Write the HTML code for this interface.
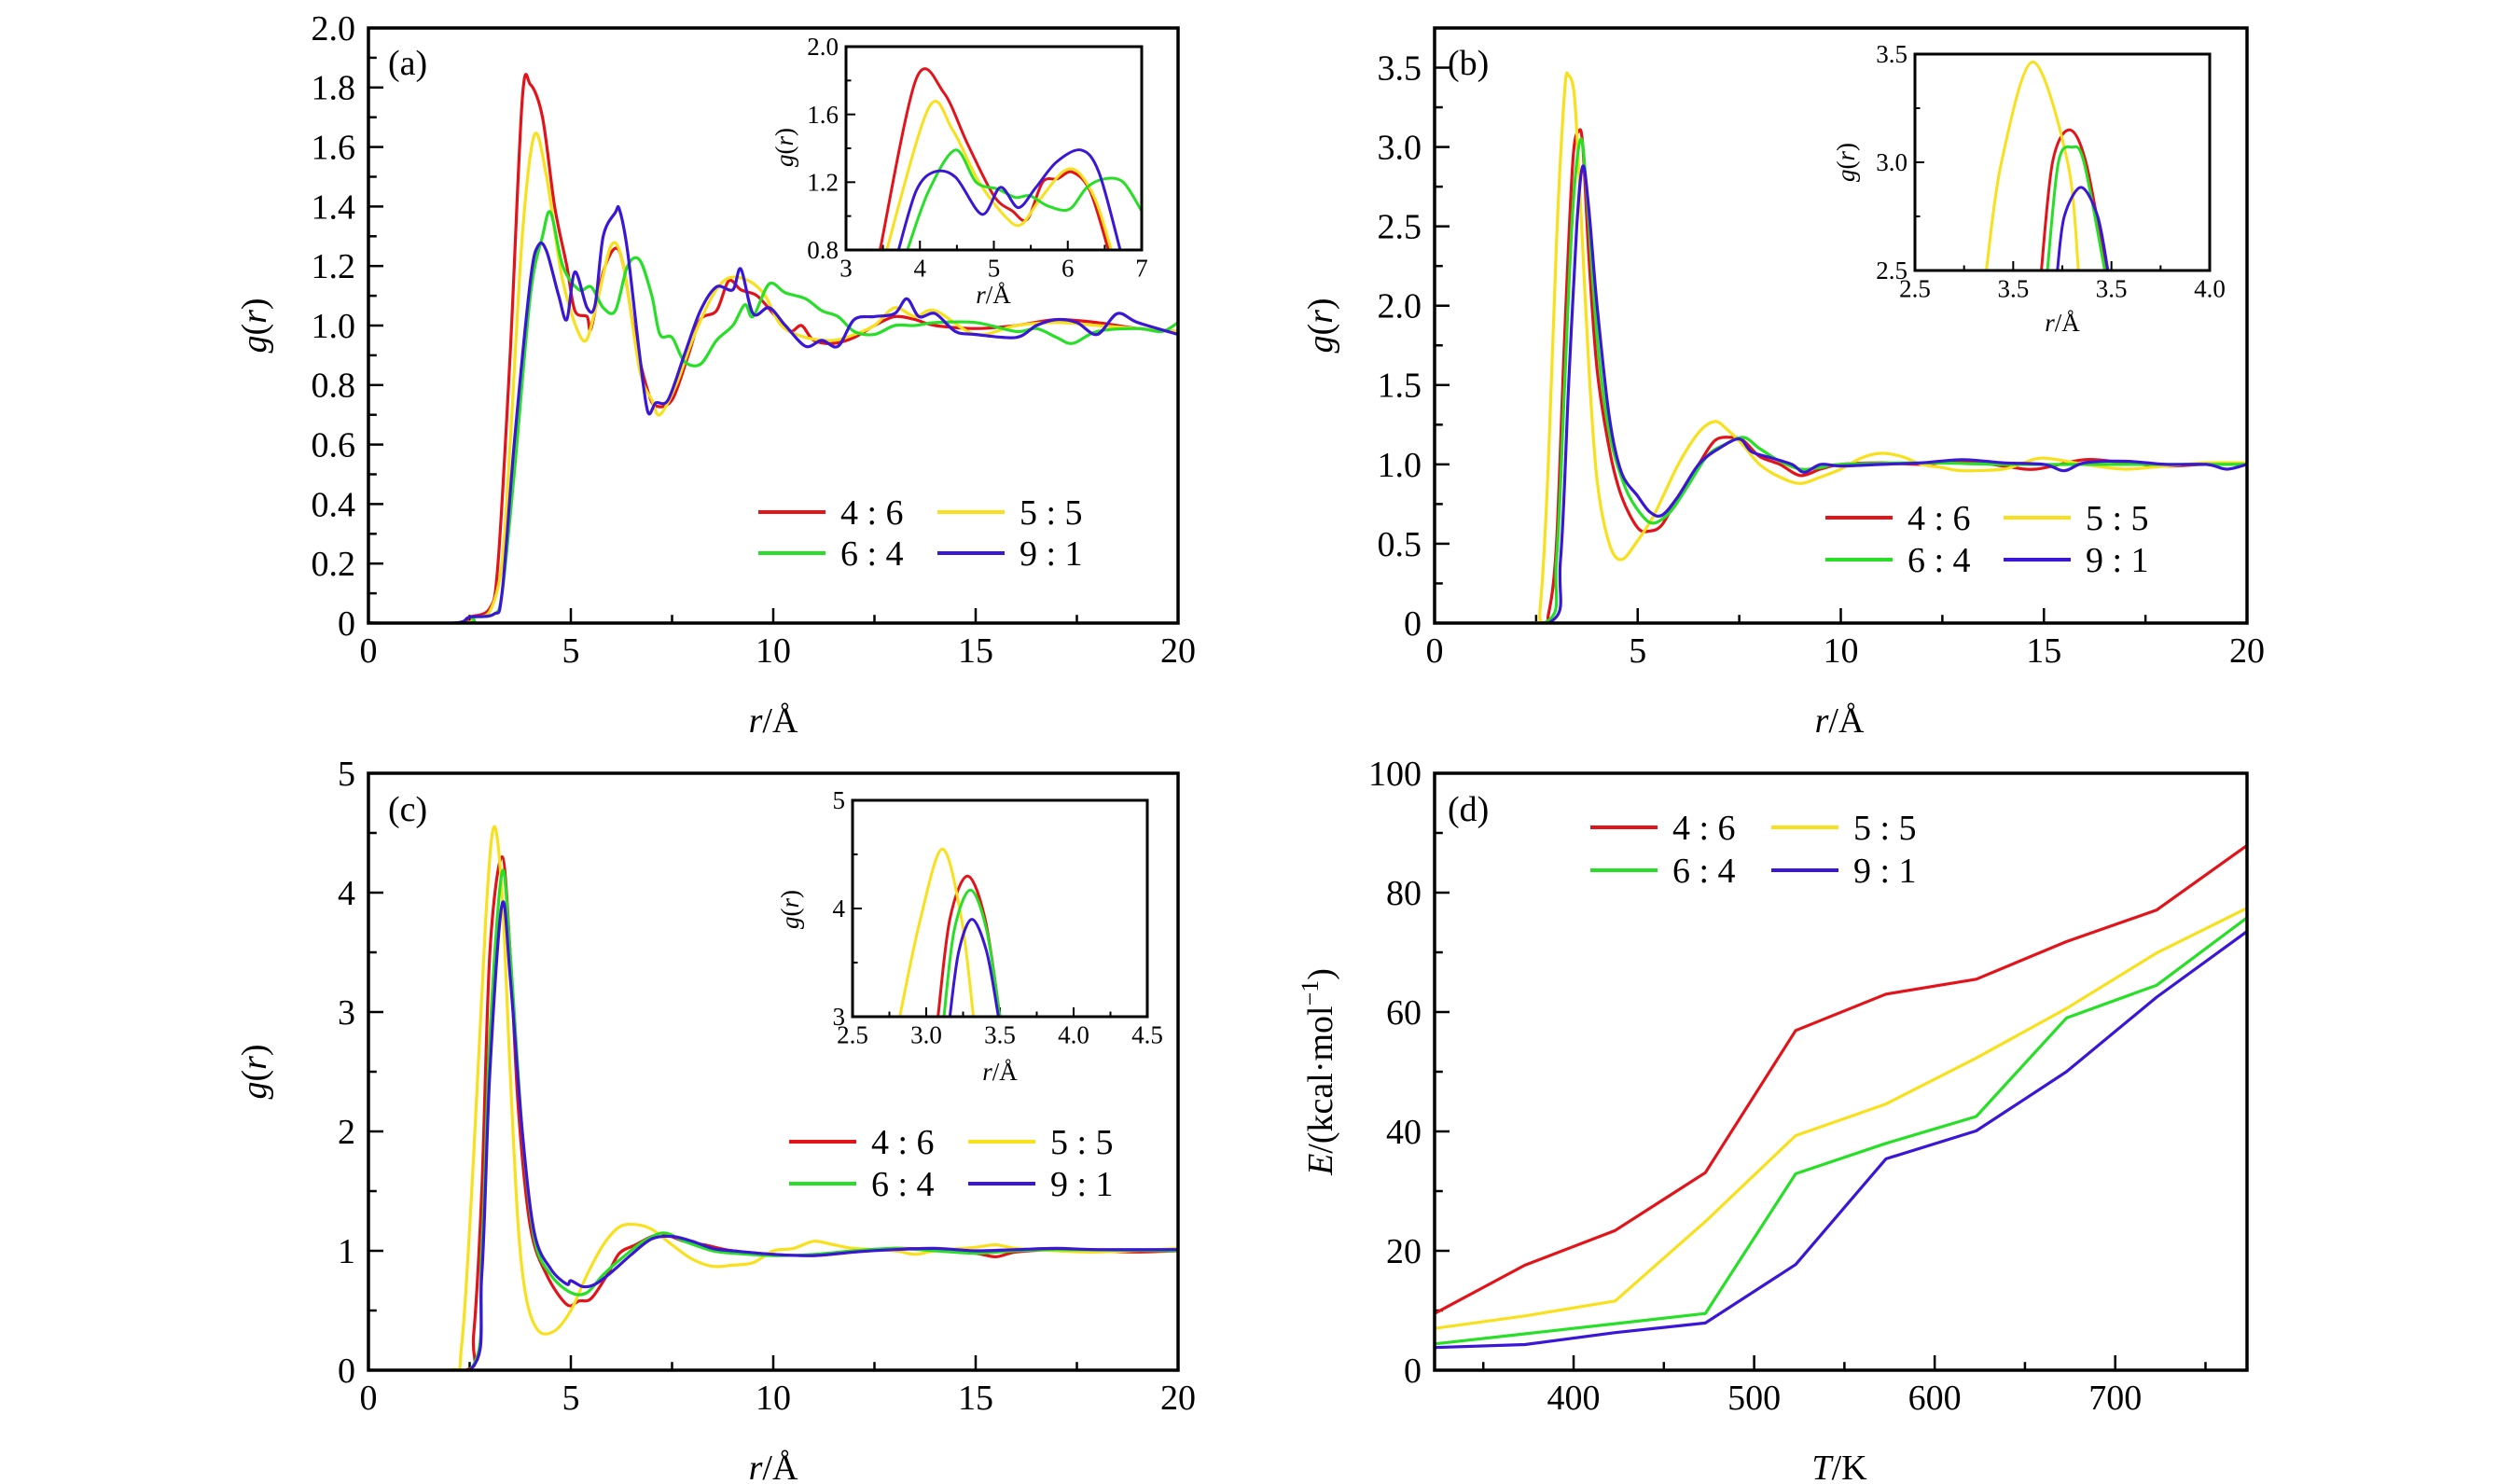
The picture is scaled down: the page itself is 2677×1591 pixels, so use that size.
<!DOCTYPE html>
<html><head><meta charset="utf-8">
<style>
html,body{margin:0;padding:0;background:#fff;}
svg{display:block;font-family:"Liberation Serif","DejaVu Serif",serif;}
svg text{font-family:"Liberation Serif","DejaVu Serif",serif;}
</style></head>
<body>
<svg id="fig" width="2677" height="1591" viewBox="0 0 2677 1591" xmlns="http://www.w3.org/2000/svg" font-family="Liberation Serif, DejaVu Serif, serif"></svg>
<script>
// ---------- DATA ----------
const seriesNames = ["4 : 6","5 : 5","6 : 4","9 : 1"];
const seriesKeys = ["r46","r55","r64","r91"];

// panel (a) main g(r): [r, g] pairs
const aR46 = [[0,0],[2.2,0],[2.5,0.02],[3.0,0.05],[3.2,0.2],[3.5,0.9],[3.8,1.76],[4.0,1.81],[4.3,1.70],[4.6,1.4],[4.9,1.2],[5.1,1.05],[5.4,1.03],[5.5,0.99],[5.8,1.18],[6.1,1.26],[6.3,1.2],[6.6,0.95],[6.9,0.78],[7.1,0.73],[7.5,0.75],[7.9,0.9],[8.2,1.02],[8.6,1.05],[8.9,1.15],[9.2,1.12],[9.6,1.1],[10.0,1.04],[10.4,0.98],[10.7,1.0],[11.0,0.95],[11.5,0.94],[12.0,0.96],[12.5,1.0],[13.0,1.03],[13.5,1.02],[14.0,1.0],[15.0,0.99],[16.0,1.0],[17.0,1.02],[18.0,1.01],[19.0,0.99],[20,0.98]];
const aR55 = [[0,0],[2.3,0],[2.6,0.02],[3.0,0.04],[3.3,0.2],[3.5,0.6],[3.8,1.3],[4.1,1.64],[4.4,1.5],[4.8,1.15],[5.3,0.95],[5.6,1.05],[6.0,1.27],[6.3,1.2],[6.7,0.85],[7.0,0.75],[7.2,0.7],[7.6,0.8],[8.0,0.95],[8.5,1.1],[8.9,1.16],[9.4,1.15],[9.8,1.1],[10.2,1.0],[10.8,0.96],[11.5,0.95],[12.0,0.97],[12.5,1.0],[13.0,1.06],[13.5,1.03],[14.0,1.05],[15,0.97],[16,1.0],[17,1.01],[18,1.0],[19,0.99],[20,0.98]];
const aR64 = [[0,0],[2.4,0],[2.6,0.02],[3.1,0.03],[3.3,0.1],[3.6,0.5],[4.0,1.1],[4.3,1.3],[4.5,1.38],[4.8,1.2],[5.2,1.12],[5.5,1.13],[5.8,1.06],[6.1,1.05],[6.4,1.2],[6.7,1.22],[7.0,1.1],[7.2,0.97],[7.5,0.96],[7.8,0.88],[8.2,0.87],[8.6,0.95],[9.0,1.0],[9.3,1.07],[9.5,1.03],[9.9,1.14],[10.3,1.11],[10.8,1.09],[11.2,1.05],[11.6,1.03],[12.0,0.98],[12.5,0.97],[13.0,1.0],[13.5,1.0],[14,1.01],[15,1.01],[16,0.98],[16.5,0.99],[17,0.96],[17.4,0.94],[18,0.98],[19,0.99],[19.6,0.98],[20,1.01]];
const aR91 = [[0,0],[2.1,0],[2.5,0.02],[3.1,0.03],[3.3,0.1],[3.6,0.6],[4.0,1.15],[4.2,1.27],[4.4,1.25],[4.7,1.1],[4.9,1.02],[5.1,1.18],[5.4,1.06],[5.6,1.07],[5.8,1.3],[6.1,1.38],[6.2,1.39],[6.4,1.25],[6.7,0.9],[6.9,0.71],[7.1,0.74],[7.4,0.75],[7.8,0.9],[8.2,1.05],[8.6,1.13],[9.0,1.12],[9.2,1.19],[9.5,1.04],[9.9,1.06],[10.3,1.0],[10.8,0.93],[11.2,0.95],[11.6,0.93],[12.0,1.02],[12.5,1.03],[13.0,1.04],[13.3,1.09],[13.6,1.03],[14.0,1.04],[14.5,0.98],[15,0.97],[16,0.96],[16.5,1.0],[17,1.02],[17.5,1.01],[18,0.97],[18.5,1.04],[19,1.01],[20,0.97]];
// panel (a) inset
const aiR46 = [[3.46,0.8],[3.95,1.81],[4.32,1.73],[4.64,1.43],[5.0,1.12],[5.25,1.03],[5.45,0.98],[5.66,1.2],[5.86,1.22],[6.06,1.26],[6.3,1.15],[6.55,0.8]];
const aiR55 = [[3.55,0.8],[4.12,1.64],[4.44,1.51],[4.8,1.2],[5.17,0.99],[5.37,0.95],[5.61,1.09],[5.93,1.26],[6.14,1.26],[6.38,1.09],[6.59,0.8]];
const aiR64 = [[3.83,0.8],[4.12,1.15],[4.48,1.39],[4.76,1.2],[5.05,1.16],[5.29,1.11],[5.49,1.12],[5.73,1.06],[6.02,1.04],[6.26,1.17],[6.5,1.22],[6.75,1.2],[7.0,1.03]];
const aiR91 = [[3.71,0.8],[3.95,1.15],[4.19,1.26],[4.48,1.23],[4.84,1.01],[5.09,1.17],[5.33,1.05],[5.57,1.17],[5.85,1.32],[6.18,1.39],[6.42,1.26],[6.71,0.8]];

// panel (b) main
const bR46 = [[0,0],[2.6,0],[2.8,0.05],[3.0,0.5],[3.2,1.8],[3.4,2.9],[3.55,3.1],[3.65,3.0],[3.8,2.3],[4.0,1.6],[4.3,1.1],[4.6,0.8],[5.0,0.6],[5.3,0.58],[5.6,0.62],[6.0,0.8],[6.5,1.0],[6.9,1.15],[7.3,1.17],[7.6,1.15],[8.0,1.05],[8.5,1.0],[9.0,0.93],[9.5,0.97],[10,1.0],[11,1.01],[12,1.0],[13,1.02],[14,0.99],[14.8,0.97],[16,1.03],[17,1.01],[18,0.99],[19,1.0],[20,1.0]];
const bR55 = [[0,0],[2.4,0],[2.6,0.1],[2.8,1.0],[3.0,2.4],[3.2,3.35],[3.3,3.45],[3.45,3.3],[3.6,2.6],[3.8,1.6],[4.0,0.9],[4.3,0.5],[4.6,0.4],[5.0,0.52],[5.4,0.68],[6.0,1.0],[6.5,1.2],[6.9,1.27],[7.2,1.22],[7.6,1.12],[8.0,1.0],[8.5,0.92],[9.0,0.88],[9.5,0.92],[10,0.97],[10.5,1.04],[11,1.07],[11.5,1.05],[12,1.0],[12.5,0.98],[13,0.96],[14,0.97],[14.5,1.01],[15,1.04],[16,1.0],[17,0.97],[18,0.99],[19,1.01],[20,1.01]];
const bR64 = [[0,0],[2.7,0],[3.0,0.4],[3.2,1.5],[3.4,2.6],[3.6,3.05],[3.75,2.7],[4.0,1.8],[4.3,1.2],[4.7,0.85],[5.1,0.68],[5.4,0.63],[5.8,0.7],[6.2,0.85],[6.7,1.05],[7.1,1.12],[7.6,1.17],[8.0,1.1],[8.5,1.02],[9.0,0.97],[9.5,0.98],[10,1.0],[12,1.01],[14,1.0],[16,1.0],[18,1.0],[20,1.0]];
const bR91 = [[0,0],[2.8,0],[3.1,0.4],[3.3,1.5],[3.5,2.5],[3.65,2.88],[3.8,2.6],[4.0,2.0],[4.3,1.3],[4.6,0.95],[5.0,0.8],[5.3,0.7],[5.6,0.68],[6.0,0.8],[6.5,1.0],[7.0,1.1],[7.5,1.16],[7.8,1.08],[8.3,1.04],[8.8,1.0],[9.1,0.95],[9.5,1.0],[10,0.99],[11,1.0],[12,1.01],[13,1.03],[14,1.01],[15,1.0],[15.5,0.96],[16,1.01],[17,1.02],[18,1.0],[19,1.0],[19.5,0.97],[20,1.0]];
// panel (b) inset
const biR46 = [[3.143,2.5],[3.2,3.0],[3.285,3.15],[3.37,3.0],[3.474,2.5]];
const biR55 = [[2.863,2.5],[2.94,3.0],[3.1,3.464],[3.277,3.0],[3.332,2.5]];
const biR64 = [[3.174,2.5],[3.23,3.0],[3.30,3.07],[3.36,3.0],[3.466,2.5]];
const biR91 = [[3.225,2.5],[3.26,2.75],[3.345,2.884],[3.43,2.75],[3.482,2.5]];

// panel (c) main
const cR46 = [[0,0],[2.4,0],[2.6,0.3],[2.8,1.5],[3.0,3.5],[3.3,4.3],[3.5,3.5],[3.7,2.2],[4.0,1.2],[4.4,0.8],[4.9,0.55],[5.2,0.58],[5.5,0.6],[5.9,0.8],[6.2,0.98],[6.6,1.05],[7.0,1.12],[7.3,1.14],[7.8,1.08],[8.3,1.05],[9.0,1.0],[10,0.97],[11,0.96],[12,0.99],[13,1.02],[14,1.01],[15,0.98],[15.5,0.95],[16,0.99],[17,1.01],[18,1.0],[19,0.99],[20,1.0]];
const cR55 = [[0,0],[2.0,0],[2.3,0.2],[2.6,1.8],[2.9,3.8],[3.1,4.55],[3.3,4.0],[3.5,2.5],[3.7,1.2],[3.9,0.6],[4.2,0.33],[4.6,0.33],[5.0,0.5],[5.4,0.8],[5.8,1.05],[6.2,1.2],[6.6,1.22],[7.0,1.18],[7.5,1.05],[8.0,0.93],[8.5,0.87],[9.0,0.88],[9.5,0.9],[10,1.0],[10.5,1.02],[11,1.08],[11.5,1.05],[12,1.02],[13,1.0],[13.5,0.97],[14,1.0],[15,1.03],[15.5,1.05],[16,1.02],[17,1.0],[18,0.99],[20,1.02]];
const cR64 = [[0,0],[2.5,0],[2.8,1.0],[3.0,2.8],[3.3,4.17],[3.5,3.5],[3.8,2.0],[4.1,1.1],[4.5,0.8],[5.0,0.65],[5.4,0.65],[5.8,0.8],[6.3,0.95],[6.8,1.08],[7.3,1.15],[7.8,1.08],[8.5,1.0],[9.0,0.98],[10,0.96],[11,0.97],[12,1.0],[13,1.02],[14,1.0],[15,0.98],[16,1.0],[17,1.01],[20,1.0]];
const cR91 = [[0,0],[2.5,0],[2.8,0.8],[3.0,2.5],[3.3,3.9],[3.5,3.3],[3.8,2.0],[4.1,1.15],[4.5,0.85],[4.9,0.72],[5.0,0.75],[5.3,0.7],[5.6,0.72],[6.0,0.82],[6.5,0.97],[7.0,1.1],[7.5,1.12],[8.0,1.08],[8.5,1.02],[9.0,1.0],[10,0.97],[11,0.96],[12,0.99],[13,1.01],[14,1.02],[15,1.0],[16,1.01],[17,1.02],[18,1.01],[20,1.01]];
// panel (c) inset
const ciR46 = [[3.08,3.0],[3.16,3.9],[3.28,4.30],[3.40,3.9],[3.5,3.0]];
const ciR55 = [[2.82,3.0],[2.96,3.9],[3.11,4.55],[3.24,3.9],[3.32,3.0]];
const ciR64 = [[3.12,3.0],[3.19,3.8],[3.30,4.17],[3.41,3.8],[3.5,3.0]];
const ciR91 = [[3.16,3.0],[3.22,3.6],[3.31,3.90],[3.41,3.6],[3.49,3.0]];

// panel (d)
const temps = [323,373,423,473,523,573,623,673,723,773];
const dR46 = [9.5,17.6,23.4,33.1,56.9,63.0,65.5,71.8,77.1,87.9];
const dR55 = [7.0,9.1,11.6,24.9,39.3,44.6,52.3,60.6,69.9,77.4];
const dR64 = [4.4,6.1,7.8,9.5,32.9,38.0,42.5,59.0,64.5,75.8];
const dR91 = [3.8,4.3,6.3,7.9,17.7,35.4,40.1,50.0,62.5,73.5];

// tick label arrays
const aYTicks = ["0","0.2","0.4","0.6","0.8","1.0","1.2","1.4","1.6","1.8","2.0"];
const bYTicks = ["0","0.5","1.0","1.5","2.0","2.5","3.0","3.5"];
const cYTicks = ["0","1","2","3","4","5"];
const rXTicks = ["0","5","10","15","20"];
const dXTicks = ["400","500","600","700"];
const dYTicks = ["0","20","40","60","80","100"];
const aiXTicks = ["3","4","5","6","7"];
const aiYTicks = ["0.8","1.2","1.6","2.0"];
const biXTicks = ["2.5","3.5","3.5","4.0"];
const biYTicks = ["2.5","3.0","3.5"];
const ciXTicks = ["2.5","3.0","3.5","4.0","4.5"];
const ciYTicks = ["3","4","5"];

const COLORS = ["#e3131a","#f8e11c","#27df27","#3a17d6"];
const FONT = '"Liberation Serif", "DejaVu Serif", serif';

// ---------- DRAWING ----------
const NS = "http://www.w3.org/2000/svg";
const svg = document.getElementById("fig");
function mk(tag, attrs, parent){
  const e = document.createElementNS(NS, tag);
  for (const k in attrs) e.setAttribute(k, attrs[k]);
  if (tag === "text") e.style.fontFamily = FONT;
  (parent||svg).appendChild(e);
  return e;
}
let clipId = 0;
function smoothPath(pts){
  if (pts.length < 2) return "";
  let d = "M" + pts[0][0].toFixed(1) + "," + pts[0][1].toFixed(1);
  for (let i=0;i<pts.length-1;i++){
    const p0 = pts[i-1]||pts[i], p1 = pts[i], p2 = pts[i+1], p3 = pts[i+2]||p2;
    const t = 0.16;
    const c1 = [p1[0]+(p2[0]-p0[0])*t, p1[1]+(p2[1]-p0[1])*t];
    const c2 = [p2[0]-(p3[0]-p1[0])*t, p2[1]-(p3[1]-p1[1])*t];
    d += " C"+c1[0].toFixed(1)+","+c1[1].toFixed(1)+" "+c2[0].toFixed(1)+","+c2[1].toFixed(1)+" "+p2[0].toFixed(1)+","+p2[1].toFixed(1);
  }
  return d;
}

function axes(cfg){
  const g = mk("g", {});
  
  
  const sx = v => cfg.x0 + (v-cfg.xmin)/(cfg.xmax-cfg.xmin)*(cfg.x1-cfg.x0);
  const sy = v => cfg.y1 - (v-cfg.ymin)/(cfg.ymax-cfg.ymin)*(cfg.y1-cfg.y0);
  const tl = cfg.tickLen, sw = cfg.sw;
  cfg.xt.forEach((v,i)=>{
    const x = sx(v);
    const t = mk("line",{x1:x,y1:cfg.y1,x2:x,y2:cfg.y1-tl,stroke:"#000","stroke-width":sw},g);
    
    
    const lb = mk("text",{x:x,y:cfg.y1+cfg.fs*0.95+cfg.xlOff,"text-anchor":"middle","font-size":cfg.fs},g);
    
    
    lb.textContent = cfg.xl[i];
  });
  (cfg.xminor||[]).forEach(v=>{
    const x = sx(v);
    mk("line",{x1:x,y1:cfg.y1,x2:x,y2:cfg.y1-tl*0.55,stroke:"#000","stroke-width":sw},g);
  });
  cfg.yt.forEach((v,i)=>{
    const y = sy(v);
    const t = mk("line",{x1:cfg.x0,y1:y,x2:cfg.x0+tl,y2:y,stroke:"#000","stroke-width":sw},g);
    
    
    const lb = mk("text",{x:cfg.x0-cfg.ylOff,y:y+cfg.fs*0.34,"text-anchor":"end","font-size":cfg.fs},g);
    
    
    lb.textContent = cfg.yl[i];
  });
  (cfg.yminor||[]).forEach(v=>{
    const y = sy(v);
    mk("line",{x1:cfg.x0,y1:y,x2:cfg.x0+tl*0.55,y2:y,stroke:"#000","stroke-width":sw},g);
  });
  const id = "clip"+(clipId++);
  const cp = mk("clipPath",{id:id},g);
  mk("rect",{x:cfg.x0,y:cfg.y0,width:cfg.x1-cfg.x0,height:cfg.y1-cfg.y0},cp);
  const plot = mk("g",{"clip-path":"url(#"+id+")"},g);
  return {g, sx, sy, plot, cfg};
}
function frame(ax){
  const c = ax.cfg;
  const r = mk("rect",{x:c.x0,y:c.y0,width:c.x1-c.x0,height:c.y1-c.y0,fill:"none",stroke:"#000","stroke-width":c.frameW||3.5},ax.g);
  
  
}
function drawSeries(ax, data, color, name, w, smooth){
  const pts = data.map(p=>[ax.sx(p[0]), ax.sy(p[1])]);
  const p = mk("path",{d: smooth? smoothPath(pts) : "M"+pts.map(q=>q[0].toFixed(1)+","+q[1].toFixed(1)).join(" L"),fill:"none",stroke:color,"stroke-width":w,"stroke-linejoin":"round"},ax.plot);
  
  
}
function legend(x1, x2, y1, y2, panel){
  const rows = [[0,1],[2,3]];
  const g = mk("g",{});
  
  
  rows.forEach((row,ri)=>{
    const y = ri===0? y1 : y2;
    row.forEach((si,ci)=>{
      const lx = ci===0? x1 : x2;
      const e = mk("g",{},g);
      
      
      mk("line",{x1:lx,y1:y,x2:lx+72,y2:y,stroke:COLORS[si],"stroke-width":4},e);
      const t = mk("text",{x:lx+88,y:y+13,"font-size":38},e);
      t.textContent = seriesNames[si];
    });
  });
}
function txt(x,y,s,fs,name,attrs){
  const t = mk("text",Object.assign({x:x,y:y,"font-size":fs,"text-anchor":"middle"},attrs||{}));
  
  
  t.innerHTML = s;
  return t;
}
function rng(a,b,s){const r=[];for(let v=a;v<=b+1e-9;v+=s)r.push(+v.toFixed(4));return r;}
const GR = '<tspan font-style="italic">g</tspan>(<tspan font-style="italic">r</tspan>)';
const RA = '<tspan font-style="italic">r</tspan>/Å';

// ===== Panel (a)
let ax = axes({name:"panel-a",x0:395,x1:1263,y0:30,y1:668,xmin:0,xmax:20,ymin:0,ymax:2,xt:[0,5,10,15,20],xl:rXTicks,xminor:[2.5,7.5,12.5,17.5],
  yt:rng(0,2,0.2),yl:aYTicks,yminor:rng(0.1,1.9,0.2),fs:38,tickLen:16,sw:2.5,xlOff:6,ylOff:14});
[aR46,aR55,aR64,aR91].forEach((d,i)=>drawSeries(ax,d,COLORS[i],"panel-a-line-"+seriesKeys[i],3.2,true));
frame(ax);
txt(416,80,"(a)",38,"panel-a-label",{"text-anchor":"start"});
txt(829,785,RA,38,"panel-a-x-axis-title");
txt(0,0,GR,38,"panel-a-y-axis-title",{transform:"translate(285,349) rotate(-90)"});
legend(813,1005,549,593,"panel-a");
let ia = axes({name:"panel-a-inset",x0:907,x1:1224,y0:50,y1:268,xmin:3,xmax:7,ymin:0.8,ymax:2,xt:[3,4,5,6,7],xl:aiXTicks,xminor:[3.5,4.5,5.5,6.5],
  yt:[0.8,1.2,1.6,2.0],yl:aiYTicks,yminor:[1.0,1.4,1.8],fs:27,tickLen:10,sw:2,xlOff:3,ylOff:8,frameW:3});
[aiR46,aiR55,aiR64,aiR91].forEach((d,i)=>drawSeries(ia,d,COLORS[i],"panel-a-inset-line-"+seriesKeys[i],3,true));
frame(ia);
txt(1065,325,RA,27,"panel-a-inset-x-title");
txt(0,0,GR,27,"panel-a-inset-y-title",{transform:"translate(850,158) rotate(-90)"});

// ===== Panel (b)
let bx = axes({name:"panel-b",x0:1538,x1:2409,y0:30,y1:668,xmin:0,xmax:20,ymin:0,ymax:3.75,xt:[0,5,10,15,20],xl:rXTicks,xminor:[2.5,7.5,12.5,17.5],
  yt:rng(0,3.5,0.5),yl:bYTicks,yminor:rng(0.25,3.75,0.5),fs:38,tickLen:16,sw:2.5,xlOff:6,ylOff:14});
[bR46,bR55,bR64,bR91].forEach((d,i)=>drawSeries(bx,d,COLORS[i],"panel-b-line-"+seriesKeys[i],3.2,true));
frame(bx);
txt(1552,80,"(b)",38,"panel-b-label",{"text-anchor":"start"});
txt(1972,785,RA,38,"panel-b-x-axis-title");
txt(0,0,GR,38,"panel-b-y-axis-title",{transform:"translate(1428,349) rotate(-90)"});
legend(1957,2148,555,600,"panel-b");
let ib = axes({name:"panel-b-inset",x0:2053,x1:2369,y0:58,y1:290,xmin:2.5,xmax:4.0,ymin:2.5,ymax:3.5,xt:[2.5,3.0,3.5,4.0],xl:biXTicks,xminor:[2.75,3.25,3.75],
  yt:[2.5,3.0,3.5],yl:biYTicks,yminor:[2.75,3.25],fs:27,tickLen:10,sw:2,xlOff:3,ylOff:8,frameW:3});
[biR46,biR55,biR64,biR91].forEach((d,i)=>drawSeries(ib,d,COLORS[i],"panel-b-inset-line-"+seriesKeys[i],3,true));
frame(ib);
txt(2211,355,RA,27,"panel-b-inset-x-title");
txt(0,0,GR,27,"panel-b-inset-y-title",{transform:"translate(1988,174) rotate(-90)"});

// ===== Panel (c)
let cx = axes({name:"panel-c",x0:395,x1:1263,y0:829,y1:1469,xmin:0,xmax:20,ymin:0,ymax:5,xt:[0,5,10,15,20],xl:rXTicks,xminor:[2.5,7.5,12.5,17.5],
  yt:[0,1,2,3,4,5],yl:cYTicks,yminor:[0.5,1.5,2.5,3.5,4.5],fs:38,tickLen:16,sw:2.5,xlOff:6,ylOff:14});
[cR46,cR55,cR64,cR91].forEach((d,i)=>drawSeries(cx,d,COLORS[i],"panel-c-line-"+seriesKeys[i],3.2,true));
frame(cx);
txt(416,880,"(c)",38,"panel-c-label",{"text-anchor":"start"});
txt(829,1586,RA,38,"panel-c-x-axis-title");
txt(0,0,GR,38,"panel-c-y-axis-title",{transform:"translate(285,1149) rotate(-90)"});
legend(846,1038,1224,1269,"panel-c");
let ic = axes({name:"panel-c-inset",x0:914,x1:1230,y0:858,y1:1090,xmin:2.5,xmax:4.5,ymin:3,ymax:5,xt:[2.5,3,3.5,4,4.5],xl:ciXTicks,xminor:[2.75,3.25,3.75,4.25],
  yt:[3,4,5],yl:ciYTicks,yminor:[3.5,4.5],fs:27,tickLen:10,sw:2,xlOff:3,ylOff:8,frameW:3});
[ciR46,ciR55,ciR64,ciR91].forEach((d,i)=>drawSeries(ic,d,COLORS[i],"panel-c-inset-line-"+seriesKeys[i],3,true));
frame(ic);
txt(1072,1158,RA,27,"panel-c-inset-x-title");
txt(0,0,GR,27,"panel-c-inset-y-title",{transform:"translate(856,975) rotate(-90)"});

// ===== Panel (d)
let dx = axes({name:"panel-d",x0:1538,x1:2409,y0:829,y1:1469,xmin:323,xmax:773,ymin:0,ymax:100,xt:[400,500,600,700],xl:dXTicks,xminor:[350,450,550,650,750],
  yt:[0,20,40,60,80,100],yl:dYTicks,yminor:[10,30,50,70,90],fs:38,tickLen:16,sw:2.5,xlOff:6,ylOff:14});
[dR46,dR55,dR64,dR91].forEach((d,i)=>drawSeries(dx,temps.map((t,j)=>[t,d[j]]),COLORS[i],"panel-d-line-"+seriesKeys[i],3.2,false));
frame(dx);
txt(1552,880,"(d)",38,"panel-d-label",{"text-anchor":"start"});
txt(1972,1586,'<tspan font-style="italic">T</tspan>/K',38,"panel-d-x-axis-title");
txt(0,0,'<tspan font-style="italic">E</tspan>/(kcal·mol<tspan font-size="26" dy="-15">−1</tspan><tspan dy="15">)</tspan>',38,"panel-d-y-axis-title",{transform:"translate(1428,1149) rotate(-90)"});
legend(1705,1899,887,933,"panel-d");
</script>
</body></html>
